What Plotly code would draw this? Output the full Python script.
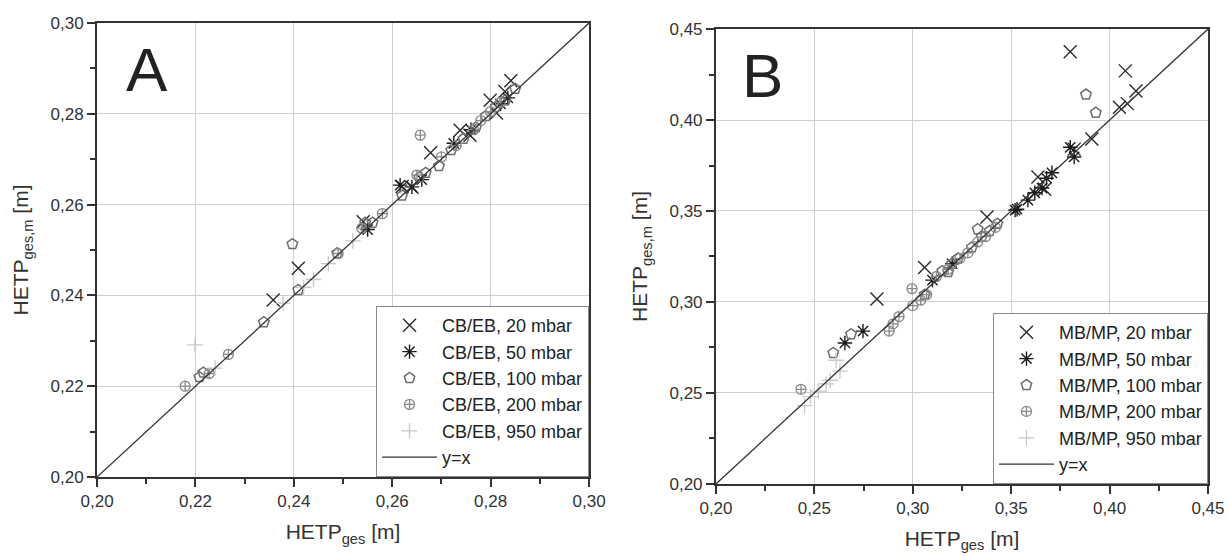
import plotly.graph_objects as go

# ---------------- Panel A (CB/EB) ----------------
a20_x = [0.2358, 0.2409, 0.2541, 0.2620, 0.2640, 0.2678, 0.2738, 0.2758, 0.2799, 0.2812, 0.2829, 0.2841]
a20_y = [0.2390, 0.2460, 0.2562, 0.2640, 0.2638, 0.2714, 0.2764, 0.2753, 0.2830, 0.2802, 0.2849, 0.2873]
a50_x = [0.2550, 0.2616, 0.2640, 0.2660, 0.2725, 0.2760, 0.2820, 0.2835]
a50_y = [0.2545, 0.2643, 0.2639, 0.2655, 0.2735, 0.2765, 0.2822, 0.2835]
a100_x = [0.2208, 0.2216, 0.2339, 0.2397, 0.2409, 0.2488, 0.2545, 0.2560, 0.2620, 0.2655, 0.2668,
          0.2695, 0.2720, 0.2745, 0.2770, 0.2790, 0.2810, 0.2830, 0.2850]
a100_y = [0.2220, 0.2230, 0.2341, 0.2513, 0.2412, 0.2493, 0.2560, 0.2560, 0.2620, 0.2660, 0.2670,
          0.2685, 0.2720, 0.2745, 0.2770, 0.2795, 0.2815, 0.2830, 0.2855]
a200_x = [0.2179, 0.2228, 0.2267, 0.2490, 0.2538, 0.2580, 0.2657, 0.2650, 0.2700, 0.2730, 0.2765,
          0.2780, 0.2800, 0.2820]
a200_y = [0.2200, 0.2228, 0.2270, 0.2492, 0.2548, 0.2580, 0.2753, 0.2665, 0.2705, 0.2730, 0.2765,
          0.2785, 0.2805, 0.2825]
a950_x = [0.2199, 0.2240, 0.2378, 0.2420, 0.2440, 0.2470, 0.2520]
a950_y = [0.2291, 0.2240, 0.2383, 0.2418, 0.2435, 0.2470, 0.2520]
a_line = [0.20, 0.30]

# ---------------- Panel B (MB/MP) ----------------
b20_x = [0.2818, 0.3060, 0.3377, 0.3636, 0.3670, 0.3800, 0.3820, 0.3910, 0.4050, 0.4090, 0.4080, 0.4134]
b20_y = [0.3017, 0.3190, 0.3467, 0.3687, 0.3620, 0.4375, 0.3840, 0.3895, 0.4070, 0.4090, 0.4270, 0.4160]
b50_x = [0.2655, 0.2747, 0.3100, 0.3200, 0.3520, 0.3530, 0.3585, 0.3620, 0.3657, 0.3680, 0.3707, 0.3800, 0.3820]
b50_y = [0.2775, 0.2840, 0.3120, 0.3210, 0.3505, 0.3510, 0.3560, 0.3600, 0.3626, 0.3680, 0.3710, 0.3850, 0.3797]
b100_x = [0.2596, 0.2686, 0.3060, 0.3150, 0.3180, 0.3200, 0.3230, 0.3300, 0.3330, 0.3350, 0.3390,
          0.3430, 0.3880, 0.3930]
b100_y = [0.2720, 0.2823, 0.3040, 0.3170, 0.3165, 0.3210, 0.3240, 0.3300, 0.3400, 0.3360, 0.3390,
          0.3430, 0.4140, 0.4040]
b200_x = [0.2432, 0.2880, 0.2900, 0.2930, 0.2996, 0.3000, 0.3040, 0.3070, 0.3120, 0.3180, 0.3240,
          0.3280, 0.3330, 0.3370, 0.3420]
b200_y = [0.2520, 0.2840, 0.2880, 0.2920, 0.3073, 0.2980, 0.3010, 0.3040, 0.3140, 0.3180, 0.3240,
          0.3270, 0.3330, 0.3360, 0.3410]
b950_x = [0.2450, 0.2480, 0.2520, 0.2560, 0.2580, 0.2610, 0.2630]
b950_y = [0.2430, 0.2480, 0.2510, 0.2550, 0.2570, 0.2680, 0.2620]
b_line = [0.20, 0.45]

labels_a = ["CB/EB, 20 mbar", "CB/EB, 50 mbar", "CB/EB, 100 mbar", "CB/EB, 200 mbar", "CB/EB, 950 mbar", "y=x"]
labels_b = ["MB/MP, 20 mbar", "MB/MP, 50 mbar", "MB/MP, 100 mbar", "MB/MP, 200 mbar", "MB/MP, 950 mbar", "y=x"]

styles = [
    dict(symbol="x-thin-open", size=13, color="#2a2a2a", line=dict(width=1.4, color="#2a2a2a")),
    dict(symbol="asterisk-open", size=12, color="#1a1a1a", line=dict(width=1.4, color="#1a1a1a")),
    dict(symbol="pentagon-open", size=11, color="#6e6e6e", line=dict(width=1.5, color="#6e6e6e")),
    dict(symbol="circle-cross-open", size=10, color="#8a8a8a", line=dict(width=1.3, color="#8a8a8a")),
    dict(symbol="cross-thin-open", size=11, color="#c8c8c8", line=dict(width=1.3, color="#c8c8c8")),
]

fig = go.Figure()

def add_panel(series, line_vals, labels, xa, ya, legend):
    for (xs, ys), lab, st in zip(series, labels[:5], styles):
        fig.add_trace(go.Scatter(x=xs, y=ys, mode="markers", name=lab, marker=st,
                                 xaxis=xa, yaxis=ya, legend=legend))
    fig.add_trace(go.Scatter(x=line_vals, y=line_vals, mode="lines", name=labels[5],
                             line=dict(color="#333333", width=1.3), xaxis=xa, yaxis=ya, legend=legend))

add_panel([(a20_x, a20_y), (a50_x, a50_y), (a100_x, a100_y), (a200_x, a200_y), (a950_x, a950_y)],
          a_line, labels_a, "x", "y", "legend")
add_panel([(b20_x, b20_y), (b50_x, b50_y), (b100_x, b100_y), (b200_x, b200_y), (b950_x, b950_y)],
          b_line, labels_b, "x2", "y2", "legend2")

font_fam = "Liberation Sans, Arial, sans-serif"

def axis(domain, rng, dtick, anchor, title, standoff):
    return dict(domain=domain, range=rng, dtick=dtick, tick0=rng[0], anchor=anchor,
                tickformat=".2f", showline=True, linecolor="#333333", linewidth=2, mirror=True,
                ticks="outside", ticklen=8, tickwidth=1.5, tickcolor="#333333",
                showgrid=True, gridcolor="#cfcfcf", gridwidth=1.2, zeroline=False,
                minor=dict(dtick=dtick / 2, ticks="outside", ticklen=5, tickwidth=1.5,
                           tickcolor="#333333", showgrid=False),
                tickfont=dict(size=17, color="#333333", family=font_fam),
                title=dict(text=title, font=dict(size=21, color="#333333", family=font_fam),
                           standoff=standoff))

legend_common = dict(bgcolor="white", bordercolor="#8a8a8a", borderwidth=1,
                     font=dict(size=18, color="#222222", family=font_fam),
                     xanchor="right", yanchor="bottom", tracegroupgap=0, itemwidth=55)

fig.update_layout(
    width=1230, height=557,
    margin=dict(l=0, r=0, t=0, b=0, autoexpand=False),
    paper_bgcolor="white", plot_bgcolor="white",
    separators=",.",
    font=dict(family=font_fam),
    xaxis=axis([0.0789, 0.4789], [0.20, 0.30], 0.02, "y", "HETP<sub>ges</sub> [m]", 14),
    yaxis=axis([0.1436, 0.9587], [0.20, 0.30], 0.02, "x", "HETP<sub>ges,m</sub> [m]", 16),
    xaxis2=axis([0.5821, 0.9821], [0.20, 0.45], 0.05, "y2", "HETP<sub>ges</sub> [m]", 14),
    yaxis2=axis([0.1311, 0.9479], [0.20, 0.45], 0.05, "x2", "HETP<sub>ges,m</sub> [m]", 16),
    legend=dict(x=0.4789, y=0.1436, **legend_common),
    legend2=dict(x=0.9821, y=0.1311, **legend_common),
    annotations=[
        dict(text="A", x=0.2102, y=0.2898, xref="x", yref="y", showarrow=False,
             font=dict(size=62, color="#222222", family=font_fam)),
        dict(text="B", x=0.2236, y=0.4247, xref="x2", yref="y2", showarrow=False,
             font=dict(size=62, color="#222222", family=font_fam)),
    ],
)

fig.write_html("out.html")
